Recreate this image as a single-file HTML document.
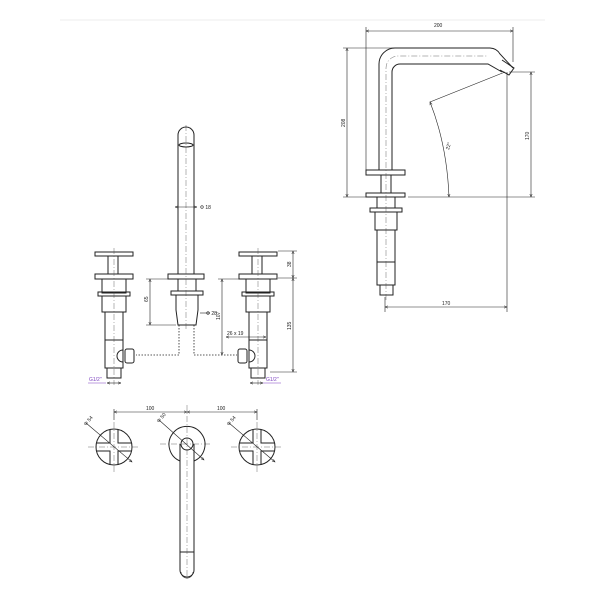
<!DOCTYPE html>
<html><head><meta charset="utf-8"><style>
html,body{margin:0;padding:0;background:#fff;width:600px;height:600px;overflow:hidden}
text{font-family:"Liberation Sans",sans-serif;font-size:5px;fill:#222}
</style></head><body>
<svg width="600" height="600" viewBox="0 0 600 600" xmlns="http://www.w3.org/2000/svg">
<defs>
<marker id="a" markerWidth="6" markerHeight="6" refX="5" refY="3" orient="auto-start-reverse"><path d="M0,1 L5,3 L0,5" fill="none" stroke="#222" stroke-width="0.8"/></marker>
</defs>
<line x1="60" y1="20" x2="545" y2="20" stroke="#eee" stroke-width="1"/>
<g fill="none" stroke="#222" stroke-width="1">
<path d="M178,274 L178,135 A8,8 0 0 1 194,135 L194,274"/>
<ellipse cx="186" cy="145" rx="7" ry="2"/>
<rect x="168" y="274" width="36" height="5"/>
<rect x="178" y="279" width="18" height="12"/>
<rect x="171" y="291" width="32" height="4"/>
<path d="M176,295 L176,310 L178,325 L196,325 L198,310 L198,295"/>
<g id="v">
<rect x="95" y="252" width="38" height="4"/>
<rect x="108" y="256" width="10" height="18"/>
<rect x="95" y="274" width="38" height="5"/>
<rect x="102" y="279" width="24" height="14"/>
<rect x="98" y="292" width="32" height="4"/>
<rect x="102" y="296" width="24" height="16"/>
<rect x="105" y="312" width="18" height="56"/>
<line x1="105" y1="340" x2="123" y2="340"/>
<rect x="107" y="368" width="14" height="10"/>
</g>
<path d="M123,350 A6,6 0 0 0 123,362"/>
<rect x="125" y="349" width="9" height="14" rx="2"/>
<use href="#v" x="144"/>
<path d="M249,350 A6,6 0 0 1 249,362"/>
<rect x="238" y="349" width="9" height="14" rx="2"/>
</g>
<g fill="none" stroke="#222" stroke-width="0.8" stroke-dasharray="1.5,1.5">
<path d="M179,325 L179,355 L136,355"/>
<path d="M194,325 L194,355 L237,355"/>
</g>
<g fill="none" stroke="#444" stroke-width="0.4" stroke-dasharray="6,2,1,2">
<line x1="186" y1="125" x2="186" y2="330"/>
<line x1="114" y1="248" x2="114" y2="385"/>
<line x1="258" y1="248" x2="258" y2="385"/>
</g>
<g stroke="#222" stroke-width="0.6" fill="none">
<line x1="175" y1="207" x2="197" y2="207" marker-start="url(#a)" marker-end="url(#a)"/>
<line x1="150" y1="279" x2="150" y2="325" marker-start="url(#a)" marker-end="url(#a)"/>
<line x1="146" y1="279" x2="168" y2="279"/><line x1="146" y1="325" x2="176" y2="325"/>
<line x1="222" y1="279" x2="222" y2="355" marker-start="url(#a)" marker-end="url(#a)"/>
<line x1="218" y1="279" x2="240" y2="279"/>
<line x1="293" y1="251" x2="293" y2="278" marker-start="url(#a)" marker-end="url(#a)"/>
<line x1="293" y1="278" x2="293" y2="372" marker-start="url(#a)" marker-end="url(#a)"/>
<line x1="278" y1="251" x2="297" y2="251"/><line x1="278" y1="278" x2="297" y2="278"/><line x1="270" y1="372" x2="297" y2="372"/>
<line x1="200" y1="313" x2="210" y2="313"/>
<line x1="226" y1="337" x2="266" y2="337" marker-start="url(#a)" marker-end="url(#a)"/>
<line x1="107" y1="383" x2="121" y2="383" marker-start="url(#a)" marker-end="url(#a)"/>
<line x1="250" y1="383" x2="263" y2="383" marker-start="url(#a)" marker-end="url(#a)"/>
</g>
<g stroke="#7a3fbf" stroke-width="0.6"><line x1="88" y1="383" x2="106" y2="383"/><line x1="263" y1="383" x2="281" y2="383"/></g>
<text x="200" y="209">Φ 18</text>
<text x="206" y="315">Φ 28</text>
<text x="227" y="335">26 x 19</text>
<text transform="translate(148,302) rotate(-90)">65</text>
<text transform="translate(220,320) rotate(-90)">107</text>
<text transform="translate(291,267) rotate(-90)">38</text>
<text transform="translate(291,330) rotate(-90)">135</text>
<text x="89" y="381" style="fill:#7a3fbf">G1/2"</text>
<text x="266" y="381" style="fill:#7a3fbf">G1/2"</text>
<g fill="none" stroke="#222" stroke-width="1">
<path d="M379,170 L379,64 A16,16 0 0 1 395,48 L490,48 A12,12 0 0 1 500,54 L513,68"/>
<path d="M392,170 L392,72 A8,8 0 0 1 400,64 L488,64 L502,72"/>
<path d="M502,60 L514,68 L509,75 L500,70"/>
<rect x="366" y="170" width="39" height="5"/>
<rect x="366" y="193" width="39" height="4"/>
<line x1="381" y1="175" x2="381" y2="193"/><line x1="391" y1="175" x2="391" y2="193"/>
<rect x="377" y="197" width="18" height="11"/>
<rect x="370" y="208" width="32" height="4"/>
<rect x="375" y="212" width="22" height="18"/>
<rect x="377" y="230" width="18" height="55"/>
<line x1="377" y1="262" x2="395" y2="262"/>
<rect x="380" y="285" width="13" height="10"/>
</g>
<g fill="none" stroke="#444" stroke-width="0.4" stroke-dasharray="6,2,1,2">
<path d="M386,300 L386,68 A12,12 0 0 1 398,56 L488,56"/>
</g>
<g stroke="#222" stroke-width="0.6" fill="none">
<line x1="366" y1="31" x2="513" y2="31" marker-start="url(#a)" marker-end="url(#a)"/>
<line x1="366" y1="27" x2="366" y2="170"/><line x1="513" y1="27" x2="513" y2="62"/>
<line x1="347" y1="48" x2="347" y2="197" marker-start="url(#a)" marker-end="url(#a)"/>
<line x1="343" y1="48" x2="395" y2="48"/><line x1="343" y1="197" x2="366" y2="197"/>
<line x1="531" y1="72" x2="531" y2="197" marker-start="url(#a)" marker-end="url(#a)"/>
<line x1="509" y1="72" x2="535" y2="72"/>
<line x1="408" y1="197" x2="535" y2="197"/>
<line x1="507" y1="72" x2="507" y2="312"/>
<line x1="385" y1="297" x2="385" y2="312"/>
<line x1="385" y1="307" x2="507" y2="307" marker-start="url(#a)" marker-end="url(#a)"/>
<line x1="430" y1="102" x2="505" y2="72"/>
<path d="M430,102 Q447,145 449,197" marker-start="url(#a)" marker-end="url(#a)"/>
</g>
<text x="434" y="27">200</text>
<text transform="translate(345,127) rotate(-90)">208</text>
<text transform="translate(529,140) rotate(-90)">170</text>
<text x="442" y="305">170</text>
<text transform="translate(449,150) rotate(-75)">22°</text>
<g fill="none" stroke="#222" stroke-width="1">
<circle cx="114" cy="447" r="18"/>
<path d="M110,429 L110,443 L96,443 M96,451 L110,451 L110,465 M118,465 L118,451 L132,451 M132,443 L118,443 L118,429"/>
<circle cx="257" cy="447" r="18"/>
<path d="M253,429 L253,443 L239,443 M239,451 L253,451 L253,465 M261,465 L261,451 L275,451 M275,443 L261,443 L261,429"/>
<path d="M180,461 A18,18 0 1 1 194,461"/>
<circle cx="187" cy="444" r="6"/>
<path d="M180,444 L180,570 A7,7 0 0 0 194,570 L194,444"/>
<line x1="180" y1="552" x2="194" y2="552"/>
<path d="M181,572 A6,6 0 0 0 193,572" stroke-width="0.6"/>
</g>
<g fill="none" stroke="#444" stroke-width="0.4" stroke-dasharray="6,2,1,2">
<line x1="88" y1="447" x2="140" y2="447"/><line x1="114" y1="422" x2="114" y2="472"/>
<line x1="231" y1="447" x2="283" y2="447"/><line x1="257" y1="422" x2="257" y2="472"/>
<line x1="160" y1="444" x2="212" y2="444"/><line x1="187" y1="405" x2="187" y2="580"/>
</g>
<g stroke="#222" stroke-width="0.6" fill="none">
<line x1="114" y1="412" x2="187" y2="412" marker-start="url(#a)" marker-end="url(#a)"/>
<line x1="187" y1="412" x2="257" y2="412" marker-start="url(#a)" marker-end="url(#a)"/>
<line x1="114" y1="409" x2="114" y2="420"/><line x1="257" y1="409" x2="257" y2="420"/>
<line x1="86" y1="423" x2="132" y2="462" marker-end="url(#a)"/>
<line x1="159" y1="420" x2="204" y2="460" marker-end="url(#a)"/>
<line x1="229" y1="423" x2="275" y2="462" marker-end="url(#a)"/>
</g>
<text x="146" y="410">100</text>
<text x="217" y="410">100</text>
<text transform="translate(86,426) rotate(-50)">Φ 54</text>
<text transform="translate(159,423) rotate(-50)">Φ 50</text>
<text transform="translate(229,426) rotate(-50)">Φ 54</text>
</svg>
</body></html>
